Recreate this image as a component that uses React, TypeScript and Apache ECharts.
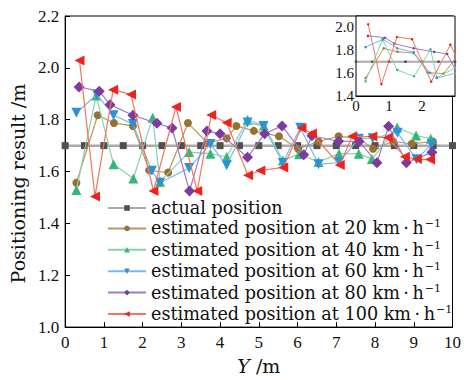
import React, { useEffect, useRef } from "react";
import * as echarts from "echarts";

// ---- data ----
const actualX = [0, 0.5, 1, 1.5, 2, 2.5, 3, 3.5, 4, 4.5, 5, 5.5, 6, 6.5, 7, 7.5, 8, 8.5, 9, 9.5, 10];
const actualY = [1.7, 1.7, 1.7, 1.7, 1.7, 1.7, 1.7, 1.7, 1.7, 1.7, 1.7, 1.7, 1.7, 1.7, 1.7, 1.7, 1.7, 1.7, 1.7, 1.7, 1.7];

const v20X = [0.29, 0.84, 1.26, 1.75, 2.17, 2.66, 3.17, 3.68, 4.17, 4.42, 4.87, 5.52, 6.02, 6.54, 7.06, 7.58, 7.95, 8.47, 8.95, 9.49];
const v20Y = [1.557, 1.817, 1.787, 1.776, 1.605, 1.596, 1.787, 1.71, 1.728, 1.776, 1.757, 1.736, 1.687, 1.716, 1.736, 1.728, 1.688, 1.716, 1.707, 1.716];

const v40X = [0.29, 0.8, 1.25, 1.76, 2.26, 2.45, 3.2, 3.75, 4.17, 4.71, 5.13, 5.62, 6.04, 6.54, 7.07, 7.58, 7.92, 8.57, 9.06, 9.44];
const v40Y = [1.529, 1.893, 1.628, 1.573, 1.808, 1.561, 1.675, 1.669, 1.656, 1.8, 1.778, 1.643, 1.667, 1.637, 1.669, 1.669, 1.648, 1.77, 1.739, 1.727];

const v60X = [0.29, 0.82, 1.25, 1.75, 2.24, 2.45, 3.2, 3.75, 4.17, 4.71, 5.12, 5.62, 6.07, 6.54, 7.07, 7.58, 7.94, 8.58, 9.07, 9.46];
const v60Y = [1.827, 1.897, 1.817, 1.783, 1.603, 1.557, 1.614, 1.706, 1.624, 1.789, 1.776, 1.633, 1.769, 1.628, 1.635, 1.727, 1.728, 1.75, 1.647, 1.705];

const v80X = [0.36, 0.88, 1.16, 1.75, 2.37, 2.76, 3.21, 3.66, 4.0, 4.71, 5.15, 5.6, 6.16, 6.37, 7.06, 7.59, 8.05, 8.35, 8.81, 9.47];
const v80Y = [1.926, 1.91, 1.858, 1.817, 1.786, 1.768, 1.525, 1.756, 1.746, 1.655, 1.746, 1.776, 1.665, 1.738, 1.717, 1.716, 1.634, 1.775, 1.634, 1.674];

const v100X = [0.37, 0.77, 1.24, 1.7, 2.28, 2.86, 3.41, 3.77, 4.17, 4.72, 5.04, 5.63, 6.1, 6.37, 7.09, 7.41, 7.93, 8.33, 8.77, 9.08, 9.42];
const v100Y = [2.028, 1.504, 1.916, 1.897, 1.525, 1.849, 1.525, 1.818, 1.788, 1.586, 1.604, 1.616, 1.768, 1.747, 1.625, 1.736, 1.735, 1.73, 1.657, 1.648, 1.646];

const seriesNames = [
  "actual position",
  "estimated position at 20 km\u2009·\u2009h",
  "estimated position at 40 km\u2009·\u2009h",
  "estimated position at 60 km\u2009·\u2009h",
  "estimated position at 80 km\u2009·\u2009h",
  "estimated position at 100 km\u2009·\u2009h",
];

const xTicksMain = { min: 0, max: 10, interval: 1 };
const yTicksMain = { min: 1.0, max: 2.2, interval: 0.2 };

const zip = (xs: number[], ys: number[]) => xs.map((x, i) => [x, ys[i]]);

const TICK_FONT = "Liberation Serif";
const TEXT_FONT = "DejaVu Serif";

export default function App() {
  const ref = useRef<HTMLDivElement>(null);
  useEffect(() => {
    if (!ref.current) return;
    const chart = echarts.init(ref.current, undefined, { renderer: "svg" });

    const defs = [
      { x: actualX, y: actualY, marker: "#505050", line: "#aaaaaa", symbol: "rect", size: 7, rot: 0, lw: 2.5 },
      { x: v20X, y: v20Y, marker: "#98702f", line: "#bb9660", symbol: "circle", size: 8, rot: 0, lw: 1.2 },
      { x: v40X, y: v40Y, marker: "#36b77a", line: "#86d3ad", symbol: "triangle", size: 10, rot: 0, lw: 1.2 },
      { x: v60X, y: v60Y, marker: "#2a93d8", line: "#7ab9ea", symbol: "triangle", size: 10, rot: 180, lw: 1.2 },
      { x: v80X, y: v80Y, marker: "#7b3b9f", line: "#a27bc4", symbol: "diamond", size: 11, rot: 0, lw: 1.2 },
      { x: v100X, y: v100Y, marker: "#f0221b", line: "#f47560", symbol: "triangle", size: 10, rot: 90, lw: 1.2 },
    ];

    const mainSeries = defs.map((d, i) => ({
      name: seriesNames[i],
      type: "line",
      xAxisIndex: 0,
      yAxisIndex: 0,
      data: zip(d.x, d.y),
      symbol: d.symbol,
      symbolSize: d.size,
      symbolRotate: d.rot,
      showAllSymbol: true,
      lineStyle: { color: d.line, width: d.lw },
      itemStyle: { color: d.marker },
      z: 2 + i,
    }));

    const insetSeries = defs.map((d, i) => ({
      name: seriesNames[i],
      type: "line",
      xAxisIndex: 1,
      yAxisIndex: 1,
      data: zip(d.x, d.y),
      symbol: i === 0 ? "rect" : "circle",
      symbolSize: 2.5,
      showAllSymbol: true,
      clip: true,
      lineStyle: { color: i === 0 ? "#aaaaaa" : d.line, width: i === 0 ? 2 : 1 },
      itemStyle: { color: d.marker },
      z: 20 + i,
    }));

    const option: any = {
      animation: false,
      backgroundColor: "#ffffff",
      grid: [
        { left: 62, top: 16, right: 9, bottom: 47, show: true, borderColor: "#000", borderWidth: 1, backgroundColor: "transparent" },
        { left: 356, top: 16, right: 9, bottom: 284, show: true, borderColor: "#000", borderWidth: 1, backgroundColor: "#ffffff", z: 10 },
      ],
      legend: {
        orient: "vertical",
        left: 102,
        top: 194,
        itemWidth: 38,
        itemHeight: 7,
        itemGap: 1.4,
        data: seriesNames,
        textStyle: {
          fontFamily: TEXT_FONT,
          fontSize: 17.6,
          color: "#111",
          lineHeight: 18,
          rich: {
            t: { fontFamily: TEXT_FONT, fontSize: 17.6, color: "#111", lineHeight: 18 },
            s: { fontFamily: TEXT_FONT, fontSize: 11, color: "#111", lineHeight: 18, padding: [0, 0, 9, 1] },
          },
        },
        formatter: (name: string) => (name === seriesNames[0] ? `{t|${name}}` : `{t|${name}}{s|−1}`),
      },
      xAxis: [
        {
          gridIndex: 0,
          type: "value",
          ...xTicksMain,
          name: "{i|Y} /m",
          nameLocation: "middle",
          nameGap: 27,
          nameTextStyle: {
            fontFamily: TEXT_FONT,
            fontSize: 19,
            color: "#111",
            rich: { i: { fontFamily: TEXT_FONT, fontSize: 19, fontStyle: "italic", color: "#111" } },
          },
          axisLine: { lineStyle: { color: "#000", width: 1 } },
          axisTick: { inside: true, length: 5, lineStyle: { color: "#000" } },
          axisLabel: { fontFamily: TICK_FONT, fontSize: 17, color: "#111", margin: 7 },
          splitLine: { show: false },
        },
        {
          gridIndex: 1,
          type: "value",
          min: 0,
          max: 3,
          interval: 1,
          axisLine: { lineStyle: { color: "#000", width: 1 } },
          axisTick: { inside: true, length: 3, lineStyle: { color: "#000" } },
          axisLabel: { fontFamily: TICK_FONT, fontSize: 15, color: "#111", margin: 2, showMaxLabel: false },
          splitLine: { show: false },
        },
      ],
      yAxis: [
        {
          gridIndex: 0,
          type: "value",
          ...yTicksMain,
          name: "Positioning result /m",
          nameLocation: "middle",
          nameGap: 29,
          nameTextStyle: { fontFamily: TEXT_FONT, fontSize: 19, color: "#111", padding: [0, 24, 0, 0] },
          axisLine: { lineStyle: { color: "#000", width: 1 } },
          axisTick: { inside: true, length: 5, lineStyle: { color: "#000" } },
          axisLabel: { fontFamily: TICK_FONT, fontSize: 17, color: "#111", margin: 6, formatter: (v: number) => v.toFixed(1) },
          splitLine: { show: false },
        },
        {
          gridIndex: 1,
          type: "value",
          min: 1.4,
          max: 2.1,
          interval: 0.2,
          axisLine: { lineStyle: { color: "#000", width: 1 } },
          axisTick: { inside: true, length: 3, lineStyle: { color: "#000" } },
          axisLabel: { fontFamily: TICK_FONT, fontSize: 15, color: "#111", margin: 2, showMaxLabel: false, formatter: (v: number) => v.toFixed(1) },
          splitLine: { show: false },
        },
      ],
      series: [...mainSeries, ...insetSeries],
    };
    chart.setOption(option);
    return () => chart.dispose();
  }, []);
  return <div ref={ref} style={{ width: 464, height: 380, position: "absolute", left: 0, top: 0 }} />;
}
